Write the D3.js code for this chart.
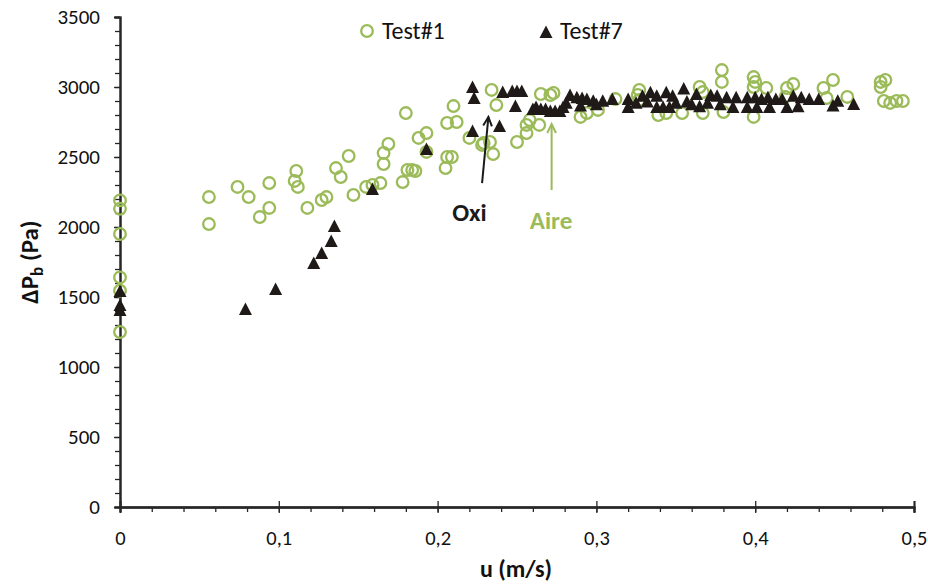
<!DOCTYPE html>
<html><head><meta charset="utf-8">
<script src="https://cdn.jsdelivr.net/npm/d3@7"></script>
<style>
body{margin:0;background:#fff;}
text{font-family:Carlito,Lato,"Open Sans",sans-serif;}
</style></head>
<body><svg id="c" width="928" height="585"></svg>
<script>
// ---- data ----
const test1 = [
[0,2190],[0,2130],[0,1950],[0,1640],[0,1545],[0,1250],
[0.056,2214],[0.056,2021],[0.074,2286],[0.081,2214],[0.094,2314],[0.094,2136],[0.088,2071],
[0.111,2400],[0.110,2329],[0.112,2286],[0.118,2136],[0.127,2193],[0.130,2214],[0.136,2421],[0.139,2357],
[0.144,2507],[0.147,2229],[0.155,2286],[0.159,2300],[0.164,2314],[0.166,2450],[0.166,2529],[0.169,2593],
[0.178,2321],[0.181,2407],[0.184,2407],[0.186,2400],[0.180,2814],[0.188,2636],[0.193,2671],[0.193,2536],
[0.205,2421],[0.206,2500],[0.209,2500],[0.206,2743],[0.212,2750],[0.210,2864],
[0.220,2636],[0.228,2586],[0.229,2600],[0.233,2607],[0.235,2521],[0.234,2979],[0.237,2871],
[0.250,2607],[0.256,2671],[0.256,2729],[0.258,2764],[0.264,2729],[0.265,2950],[0.271,2943],[0.273,2957],
[0.290,2786],[0.294,2814],[0.301,2836],[0.312,2914],[0.327,2979],[0.326,2943],[0.327,2907],[0.339,2800],
[0.344,2814],[0.354,2814],[0.365,3000],[0.367,2964],[0.367,2814],[0.379,3121],[0.379,3036],[0.380,2821],
[0.399,3071],[0.400,3036],[0.399,3000],[0.407,2993],[0.399,2786],[0.420,2993],[0.424,3021],[0.419,2929],
[0.443,2993],[0.449,3050],[0.445,2921],[0.458,2929],[0.479,3036],[0.482,3050],[0.479,3000],
[0.481,2900],[0.485,2886],[0.489,2900],[0.493,2900]
];
const test7 = [
[0,1536],[0,1436],[0,1400],[0.079,1407],[0.098,1550],[0.122,1736],[0.127,1807],[0.133,1893],[0.135,2000],
[0.159,2264],[0.193,2550],
[0.222,2993],[0.223,2914],[0.222,2679],[0.239,2714],[0.241,2957],[0.247,2964],[0.250,2964],[0.253,2964],[0.249,2857],
[0.260,2836],[0.262,2850],[0.265,2836],[0.268,2836],[0.271,2821],[0.274,2821],[0.277,2821],[0.281,2880],
[0.2834,2936],[0.2877,2919],[0.291,2914],[0.294,2907],[0.298,2895],[0.304,2895],[0.310,2907],[0.320,2907],
[0.329,2931],[0.334,2955],[0.338,2931],[0.344,2955],[0.348,2931],[0.355,2983],[0.363,2943],[0.372,2936],
[0.376,2931],[0.382,2919],[0.388,2919],[0.395,2919],
[0.279,2850],[0.290,2860],[0.320,2850],[0.338,2850],[0.342,2850],[0.346,2850],[0.365,2855],[0.386,2850],[0.395,2850],
[0.325,2880],[0.332,2890],[0.350,2880],[0.357,2890],[0.360,2870],[0.370,2880],[0.378,2870],[0.300,2870],
[0.400,2919],[0.404,2907],[0.408,2919],[0.413,2907],[0.417,2907],[0.424,2931],[0.429,2919],[0.434,2907],
[0.440,2907],[0.449,2860],[0.452,2895],[0.462,2871],
[0.401,2850],[0.409,2850],[0.420,2850],[0.427,2855]
];
const xTicks = [0,0.1,0.2,0.3,0.4,0.5];
const yTicks = [0,500,1000,1500,2000,2500,3000,3500];
const seriesNames = ["Test#1","Test#7"];
const annotations = [
  {label:"Oxi", from:[0.228,2314], to:[0.232,2786], text:[0.220,2100], color:"#1a1a1a"},
  {label:"Aire", from:[0.2718,2264], to:[0.2718,2736], text:[0.2714,2043], color:"#9bbb59"}
];

// ---- chart ----
const green = "#9bbb59", dark = "#1f1a17", axisC = "#262626";
const svg = d3.select("#c");
const x = d3.scaleLinear().domain([0,0.5]).range([120,914]);
const y = d3.scaleLinear().domain([0,3500]).range([507,17]);
const fmt = d => d===0 ? "0" : d.toFixed(1).replace(".",",");

// x axis
const gx = svg.append("g").attr("transform","translate(0,507)");
gx.call(d3.axisBottom(x).tickValues(d3.range(0,0.5001,0.02)).tickSize(5).tickFormat(""));
gx.append("g").call(d3.axisBottom(x).tickValues(xTicks).tickSize(6).tickFormat(fmt).tickPadding(17));
gx.append("g").call(d3.axisTop(x).tickValues(xTicks).tickSize(6).tickFormat(""));
gx.selectAll("path.domain").attr("stroke",axisC).attr("stroke-width",2);
gx.selectAll("line").attr("stroke",axisC).attr("stroke-width",1.3);
gx.selectAll("text").attr("font-size",20.5).attr("fill","#111");

// y axis
const gy = svg.append("g").attr("transform","translate(120,0)");
gy.call(d3.axisLeft(y).tickValues(d3.range(0,3501,100)).tickSize(5).tickFormat(""));
gy.append("g").call(d3.axisLeft(y).tickValues(yTicks).tickSize(6).tickFormat(d=>d).tickPadding(14));
gy.selectAll("path.domain").attr("stroke",axisC).attr("stroke-width",2);
gy.selectAll("line").attr("stroke",axisC).attr("stroke-width",1.3);
gy.selectAll("text").attr("font-size",21).attr("fill","#111");

// axis titles
svg.append("text").attr("x",516).attr("y",577).attr("text-anchor","middle")
  .attr("font-size",24).attr("font-weight","bold").attr("fill","#111").text("u (m/s)");
const yt = svg.append("text").attr("transform","translate(38,262) rotate(-90)").attr("text-anchor","middle")
  .attr("font-size",25).attr("font-weight","bold").attr("fill","#111");
yt.append("tspan").text("ΔP");
yt.append("tspan").attr("font-size",17).attr("dy",5).text("b");
yt.append("tspan").attr("dy",-5).text(" (Pa)");

const tri = "M0,-7.5L6.5,5L-6.5,5Z";

// series
svg.append("g").selectAll("circle").data(test1).join("circle")
  .attr("cx",d=>x(d[0])).attr("cy",d=>y(d[1])).attr("r",5.8)
  .attr("fill","none").attr("stroke",green).attr("stroke-width",2.3);
svg.append("g").selectAll("path").data(test7).join("path")
  .attr("transform",d=>`translate(${x(d[0])},${y(d[1])})`).attr("d",tri).attr("fill",dark);

// annotations
annotations.forEach(a=>{
  const x1=x(a.from[0]),y1=y(a.from[1]),x2=x(a.to[0]),y2=y(a.to[1]);
  const g=svg.append("g").attr("stroke",a.color).attr("stroke-width",2).attr("fill","none");
  g.append("line").attr("x1",x1).attr("y1",y1).attr("x2",x2).attr("y2",y2);
  const ang=Math.atan2(y1-y2,x1-x2), L=10, s=0.45;
  g.append("polyline").attr("points",[
    [x2+L*Math.cos(ang+s),y2+L*Math.sin(ang+s)],[x2,y2],[x2+L*Math.cos(ang-s),y2+L*Math.sin(ang-s)]
  ].map(p=>p.join(",")).join(" "));
  svg.append("text").attr("x",x(a.text[0])).attr("y",y(a.text[1])+8).attr("text-anchor","middle")
    .attr("font-size",25).attr("font-weight","bold").attr("fill",a.color).text(a.label);
});

// legend
const lg = svg.append("g");
lg.append("circle").attr("cx",367).attr("cy",31).attr("r",5.8).attr("fill","none").attr("stroke",green).attr("stroke-width",2.3);
lg.append("text").attr("x",382).attr("y",39).attr("font-size",24).attr("fill","#111").text(seriesNames[0]);
lg.append("path").attr("transform","translate(546,33)").attr("d",tri).attr("fill",dark);
lg.append("text").attr("x",560).attr("y",39).attr("font-size",24).attr("fill","#111").text(seriesNames[1]);
</script></body></html>
